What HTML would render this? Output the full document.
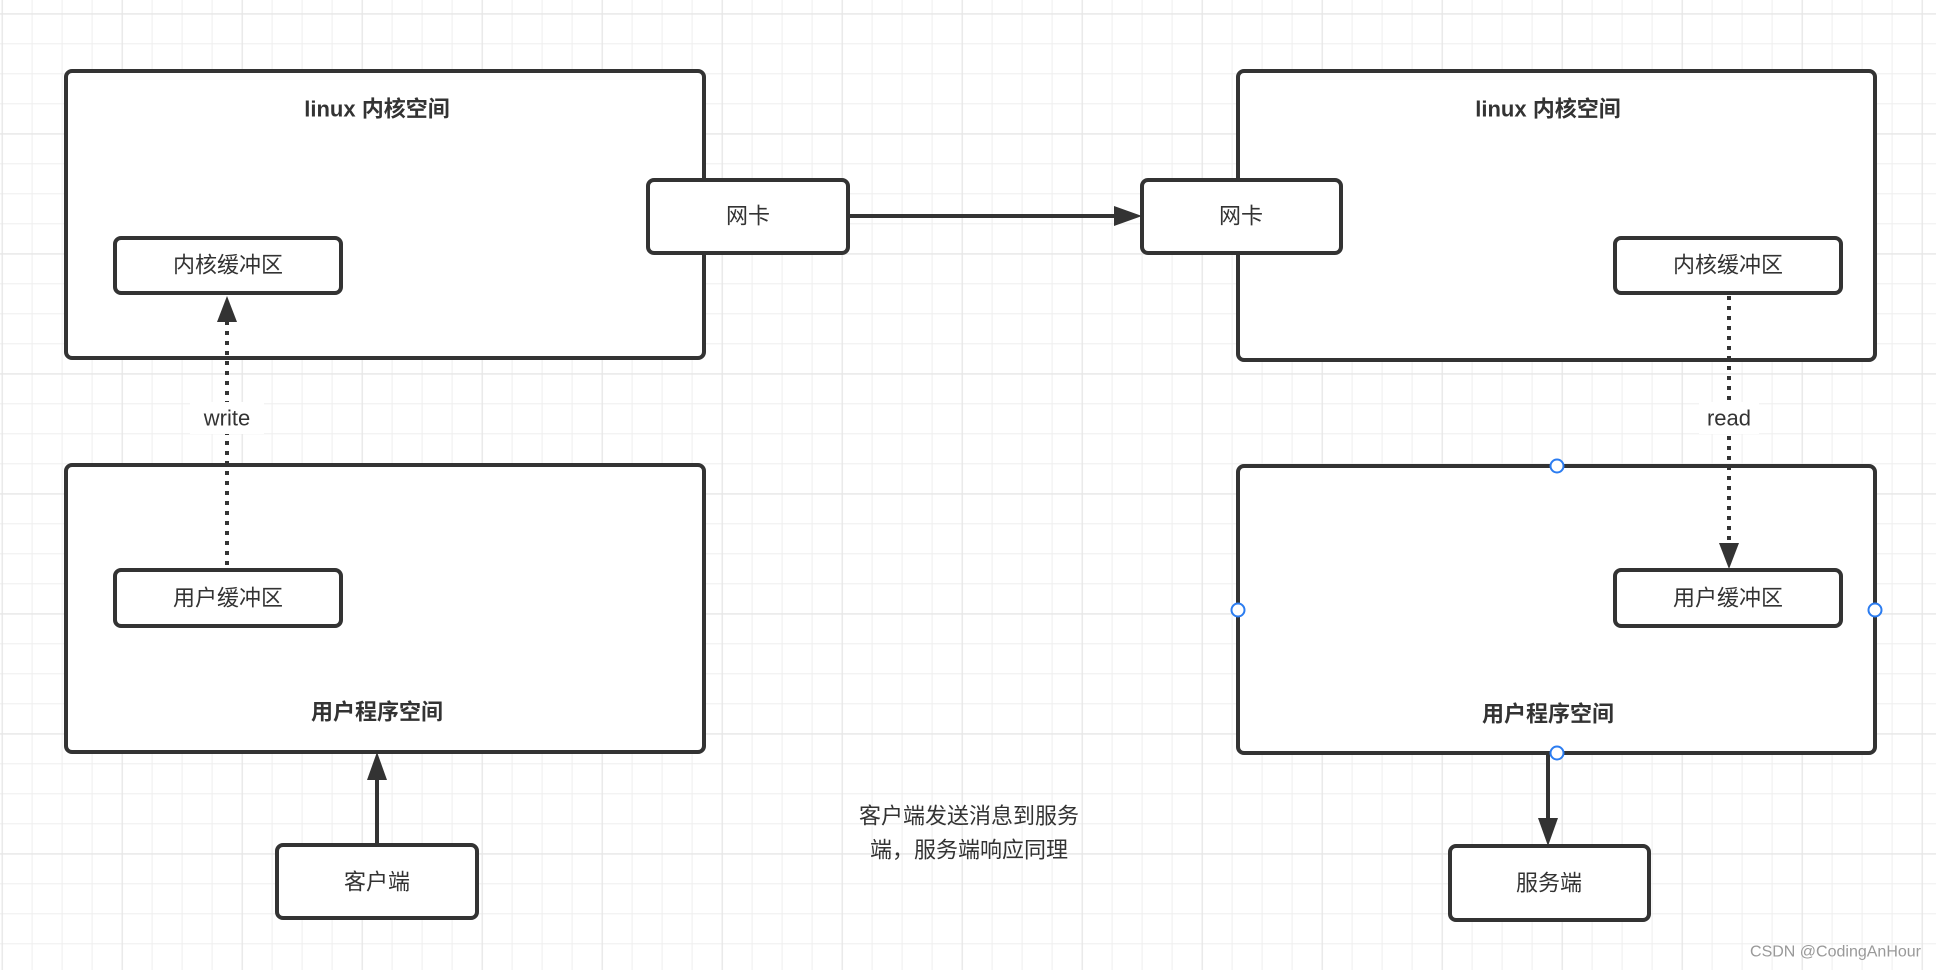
<!DOCTYPE html>
<html><head><meta charset="utf-8">
<style>
html,body{margin:0;padding:0;background:#fff;}
svg{display:block;}
text{font-family:"Liberation Sans","Noto Sans CJK SC",sans-serif;fill:#333;}
</style></head>
<body>
<svg width="1936" height="970" viewBox="0 0 1936 970" xmlns="http://www.w3.org/2000/svg">
<defs>
<pattern id="g" x="1.6" y="13.3" width="30" height="30" patternUnits="userSpaceOnUse">
<path d="M0 0H30M0 0V30" stroke="#eeeeee" stroke-width="2" fill="none"/>
</pattern>
<pattern id="G" x="1.6" y="13.3" width="120" height="120" patternUnits="userSpaceOnUse">
<path d="M0 0H120M0 0V120" stroke="#e6e6e6" stroke-width="2.5" fill="none"/>
</pattern>
</defs>
<rect width="1936" height="970" fill="#fff"/>
<rect width="1936" height="970" fill="url(#g)"/>
<rect width="1936" height="970" fill="url(#G)"/>

<g fill="#fff" stroke="#333" stroke-width="4">
<rect x="66" y="71" width="638" height="287" rx="6"/>
<rect x="66" y="465" width="638" height="287" rx="6"/>
<rect x="1238" y="71" width="637" height="289" rx="6"/>
<rect x="1238" y="466" width="637" height="287" rx="6"/>
<rect x="648" y="180" width="200" height="73" rx="6"/>
<rect x="1142" y="180" width="199" height="73" rx="6"/>
<rect x="115" y="238" width="226" height="55" rx="6"/>
<rect x="115" y="570" width="226" height="56" rx="6"/>
<rect x="1615" y="238" width="226" height="55" rx="6"/>
<rect x="1615" y="570" width="226" height="56" rx="6"/>
<rect x="277" y="845" width="200" height="73" rx="6"/>
<rect x="1450" y="846" width="199" height="74" rx="6"/>
</g>

<!-- connectors -->
<g stroke="#333" stroke-width="4" fill="none">
<line x1="848" y1="216" x2="1122" y2="216"/>
<line x1="377" y1="845" x2="377" y2="772"/>
<line x1="1548" y1="753" x2="1548" y2="826"/>
<line x1="227" y1="565" x2="227" y2="316" stroke-dasharray="4,6"/>
<line x1="1729" y1="296" x2="1729" y2="548" stroke-dasharray="4,6"/>
</g>
<g fill="#333">
<polygon points="1142,216 1114,206 1114,226"/>
<polygon points="377,752 367,780 387,780"/>
<polygon points="1548,846 1538,818 1558,818"/>
<polygon points="227,296 217,322 237,322"/>
<polygon points="1729,569 1719,543 1739,543"/>
</g>
<rect x="190" y="402" width="74" height="32" fill="#fff"/>
<rect x="1699" y="402" width="60" height="32" fill="#fff"/>

<!-- handles -->
<g fill="#fff" stroke="#2b7cf0" stroke-width="2">
<circle cx="1557" cy="466" r="6.5"/>
<circle cx="1238" cy="610" r="6.5"/>
<circle cx="1875" cy="610" r="6.5"/>
<circle cx="1557" cy="753" r="6.5"/>
</g>

<g font-size="22" text-anchor="middle" dominant-baseline="central">
<text x="377" y="109" font-weight="bold">linux 内核空间</text>
<text x="1548" y="109" font-weight="bold">linux 内核空间</text>
<text x="748" y="216">网卡</text>
<text x="1241" y="216">网卡</text>
<text x="228" y="265">内核缓冲区</text>
<text x="1728" y="265">内核缓冲区</text>
<text x="227" y="418">write</text>
<text x="1729" y="418">read</text>
<text x="228" y="598">用户缓冲区</text>
<text x="1728" y="598">用户缓冲区</text>
<text x="377" y="712" font-weight="bold">用户程序空间</text>
<text x="1548" y="714" font-weight="bold">用户程序空间</text>
<text x="377" y="882">客户端</text>
<text x="1549" y="883">服务端</text>
<text x="969" y="816">客户端发送消息到服务</text>
<text x="969" y="850">端，服务端响应同理</text>
</g>
<text x="1921" y="952" font-size="16" text-anchor="end" dominant-baseline="central" style="fill:#999">CSDN @CodingAnHour</text>
</svg>
</body></html>
